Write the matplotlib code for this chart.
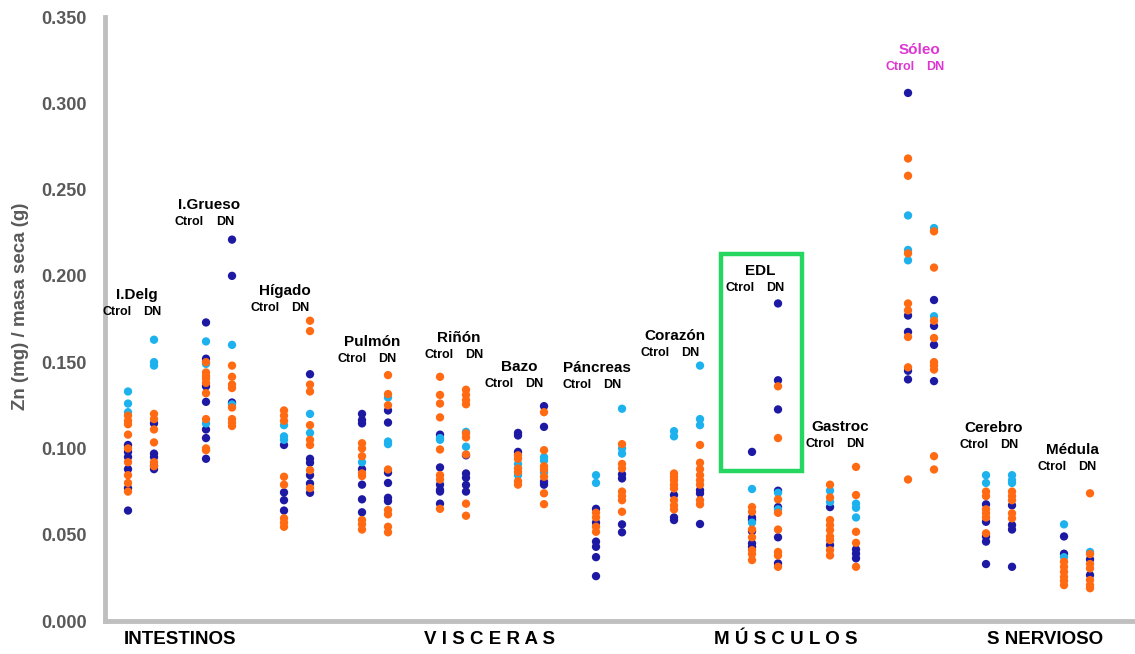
import matplotlib
matplotlib.use("Agg")
import matplotlib.pyplot as plt
from matplotlib.patches import Rectangle

plt.rcParams['font.family'] = ['Liberation Sans', 'DejaVu Sans']

# tissues, left to right
tissues = ["I.Delg", "I.Grueso", "Hígado", "Pulmón", "Riñón", "Bazo", "Páncreas",
           "Corazón", "EDL", "Gastroc", "Sóleo", "Cerebro", "Médula"]

# Zn (mg) / dry mass (g), one list per tissue, split by dot colour
navy_ctrol = [
    [0.102, 0.098, 0.095, 0.088, 0.077, 0.064],
    [0.173, 0.152, 0.136, 0.127, 0.111, 0.106, 0.094],
    [0.102, 0.0745, 0.070, 0.064],
    [0.120, 0.1164, 0.1145, 0.088, 0.079, 0.0705, 0.063],
    [0.108, 0.089, 0.079, 0.076, 0.075, 0.068],
    [0.109, 0.1075, 0.098],
    [0.065, 0.057, 0.046, 0.043, 0.037, 0.026],
    [0.073, 0.060, 0.0585],
    [0.098, 0.060, 0.0585, 0.052, 0.045, 0.043],
    [0.066, 0.044],
    [0.306, 0.177, 0.1675, 0.145, 0.140],
    [0.0676, 0.0575, 0.049, 0.046, 0.033],
    [0.049, 0.039],
]
lblue_ctrol = [
    [0.133, 0.126, 0.121],
    [0.162, 0.149, 0.1145],
    [0.1135, 0.107, 0.105],
    [0.092],
    [0.106, 0.105],
    [0.091, 0.0845],
    [0.0845, 0.080],
    [0.110, 0.107],
    [0.0765, 0.057],
    [0.0755, 0.069],
    [0.235, 0.215, 0.209],
    [0.0845, 0.080],
    [0.056, 0.037],
]
orange_ctrol = [
    [0.119, 0.116, 0.114, 0.108, 0.100, 0.092, 0.0845, 0.080, 0.075],
    [0.150, 0.144, 0.142, 0.1405, 0.138, 0.132, 0.117, 0.100, 0.099],
    [0.122, 0.119, 0.116, 0.0836, 0.079, 0.0595, 0.057, 0.0546],
    [0.103, 0.100, 0.0955, 0.0855, 0.084, 0.0585, 0.056, 0.053],
    [0.1415, 0.131, 0.126, 0.118, 0.0994, 0.0845, 0.082, 0.065],
    [0.096, 0.094, 0.0884, 0.0864, 0.081, 0.079],
    [0.0627, 0.060, 0.0546, 0.0517],
    [0.0855, 0.0836, 0.0816, 0.079, 0.0768, 0.070, 0.067, 0.0647],
    [0.066, 0.0633, 0.053, 0.0485, 0.041, 0.0388, 0.0353],
    [0.079, 0.0716, 0.0585, 0.0556, 0.0527, 0.049, 0.0469, 0.041, 0.038],
    [0.268, 0.258, 0.213, 0.184, 0.180, 0.1646, 0.147, 0.082],
    [0.075, 0.0724, 0.0647, 0.0624, 0.060, 0.0508],
    [0.0343, 0.0314, 0.0285, 0.0256, 0.0233, 0.0208],
]
navy_dn = [
    [0.1145, 0.097, 0.095, 0.090, 0.088],
    [0.221, 0.200, 0.1266],
    [0.143, 0.094, 0.0917, 0.0845, 0.0797, 0.0743],
    [0.122, 0.115, 0.086, 0.080, 0.0714, 0.0695],
    [0.096, 0.0855, 0.083, 0.0788, 0.075],
    [0.1245, 0.1125, 0.0807, 0.079],
    [0.085, 0.0826, 0.056, 0.0514],
    [0.0758, 0.074, 0.0562],
    [0.184, 0.1395, 0.1226, 0.0755, 0.066, 0.0485, 0.0334],
    [0.0415, 0.039, 0.0363],
    [0.186, 0.171, 0.160, 0.139],
    [0.067, 0.0556, 0.053, 0.0314],
    [0.0357, 0.0266],
]
lblue_dn = [
    [0.163, 0.150, 0.148],
    [0.160, 0.1255],
    [0.120, 0.109],
    [0.1295, 0.104, 0.1025],
    [0.1096, 0.101],
    [0.095, 0.093, 0.086],
    [0.123, 0.100, 0.097],
    [0.148, 0.117, 0.1135],
    [0.0743, 0.0647],
    [0.068, 0.0656, 0.060],
    [0.2277, 0.1766],
    [0.0845, 0.0816, 0.080],
    [0.040],
]
orange_dn = [
    [0.120, 0.117, 0.111, 0.1035, 0.092, 0.0897],
    [0.148, 0.1415, 0.137, 0.135, 0.1237, 0.117, 0.115, 0.113],
    [0.174, 0.168, 0.137, 0.133, 0.1135, 0.105, 0.102, 0.0874, 0.077],
    [0.1425, 0.1315, 0.125, 0.0878, 0.0643, 0.0618, 0.0546, 0.0514],
    [0.134, 0.131, 0.128, 0.1256, 0.1087, 0.1064, 0.0965, 0.068, 0.061],
    [0.121, 0.099, 0.0897, 0.0878, 0.0836, 0.074, 0.0677],
    [0.1025, 0.091, 0.0884, 0.075, 0.0724, 0.070, 0.0633],
    [0.102, 0.0917, 0.088, 0.0845, 0.0816, 0.079, 0.070, 0.0676],
    [0.136, 0.106, 0.0705, 0.0627, 0.053, 0.040, 0.038, 0.0314],
    [0.0893, 0.073, 0.0517, 0.0453, 0.0314],
    [0.2258, 0.2048, 0.174, 0.164, 0.150, 0.148, 0.1457, 0.0955, 0.0878],
    [0.075, 0.0724, 0.070, 0.0624, 0.0595],
    [0.074, 0.0388, 0.033, 0.0305, 0.0237, 0.0208, 0.019],
]

sections = ["INTESTINOS", "V I S C E R A S", "M Ú S C U L O S", "S NERVIOSO"]
yticks = [0.0, 0.05, 0.10, 0.15, 0.20, 0.25, 0.30, 0.35]

# label placement (x in column units, y in data units)
name_x = [0.35, 3.12, 6.04, 9.38, 12.73, 15.04, 18.04, 21.04, 24.31, 27.38, 30.44, 33.31, 36.31]
name_y = [0.1889, 0.2411, 0.1914, 0.1615, 0.164, 0.1474, 0.1464, 0.1653, 0.203, 0.1126, 0.3309, 0.1117, 0.099]
section_x = [2.0, 13.92, 25.31, 35.27]

NAVY = "#1D19A3"
LBLUE = "#1DB2EE"
ORANGE = "#FF6A13"
GRAY = "#595959"
AXGRAY = "#BFBFBF"

fig = plt.figure(figsize=(11.35, 6.54), dpi=100)
ax = fig.add_axes([105 / 1135, 33 / 654, 1 - 105 / 1135, 604 / 654])

for i, name in enumerate(tissues):
    xc, xd = 3 * i, 3 * i + 1
    for vals, col, x in [(navy_ctrol[i], NAVY, xc), (lblue_ctrol[i], LBLUE, xc),
                         (orange_ctrol[i], ORANGE, xc), (navy_dn[i], NAVY, xd),
                         (lblue_dn[i], LBLUE, xd), (orange_dn[i], ORANGE, xd)]:
        ax.scatter([x] * len(vals), vals, s=36, color=col, edgecolors='none', zorder=3)

    tcol = "#DD36D2" if name == "Sóleo" else "black"
    ax.text(name_x[i], name_y[i], name, ha='center', va='center', fontsize=11,
            fontweight='bold', color=tcol)
    sub_y = name_y[i] - 0.0098
    ax.text(name_x[i] - 0.2, sub_y, "Ctrol", ha='right', va='center', fontsize=9,
            fontweight='bold', color=tcol)
    ax.text(name_x[i] + 0.25, sub_y, "DN", ha='left', va='center', fontsize=9,
            fontweight='bold', color=tcol)

# highlight box around EDL
ax.add_patch(Rectangle((22.8, 0.0869), 3.12, 0.1257, fill=False, edgecolor="#25D760",
                       linewidth=3.2, zorder=4))

ax.set_xlim(-0.885, 38.73)
ax.set_ylim(0, 0.35)
ax.set_yticks(yticks)
ax.set_yticklabels([f"{t:.3f}" for t in yticks], fontsize=13, fontweight='bold', color=GRAY)
ax.set_xticks(section_x)
ax.set_xticklabels(sections, fontsize=13.5, fontweight='bold', color='black')
ax.tick_params(axis='y', length=0, pad=13)
ax.tick_params(axis='x', length=0, pad=7)

for side in ['top', 'right']:
    ax.spines[side].set_visible(False)
for side in ['left', 'bottom']:
    ax.spines[side].set_color(AXGRAY)
    ax.spines[side].set_linewidth(3.5)

fig.text(21 / 1135, 1 - 306 / 654, "Zn (mg) / masa seca (g)", rotation=90, ha='center',
         va='center', fontsize=13.5, fontweight='bold', color=GRAY)

fig.savefig("out.png", dpi=100)
